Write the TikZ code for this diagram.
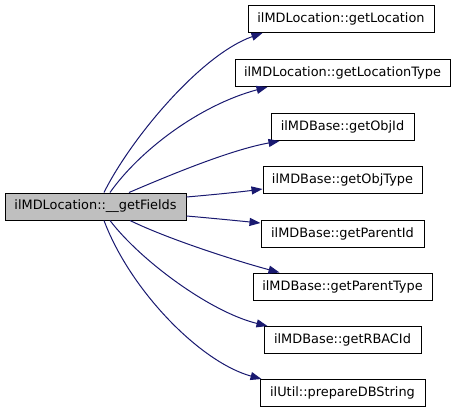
\documentclass[tikz,border=0pt]{standalone}
\usepackage{fontspec}
\setmainfont{DejaVu Sans}
\usetikzlibrary{arrows.meta,calc}
\definecolor{edgeblue}{HTML}{191970}
\definecolor{maingray}{HTML}{BFBFBF}
\begin{document}
\begin{tikzpicture}[x=1pt,y=-1pt,
  fn/.style={draw=black,line width=1pt,rectangle,inner sep=0pt,minimum height=27pt,
    font=\fontsize{12.9}{15}\selectfont,fill=white},
  call/.style={draw=edgeblue,line width=1pt,-{Triangle[length=11pt,width=8pt]}}]
\useasboundingbox (0,0) rectangle (456,413);
\node[fn,fill=maingray,minimum width=181pt] (main) at (95.5,206.5) {ilMDLocation::\_\_getFields};
\node[fn,minimum width=186pt] (n1) at (341,19) {ilMDLocation::getLocation};
\node[fn,minimum width=215pt] (n2) at (342.5,73) {ilMDLocation::getLocationType};
\node[fn,minimum width=143pt] (n3) at (342.5,127) {ilMDBase::getObjId};
\node[fn,minimum width=159pt] (n4) at (342.5,179.5) {ilMDBase::getObjType};
\node[fn,minimum width=163pt] (n5) at (342.5,233.5) {ilMDBase::getParentId};
\node[fn,minimum width=179pt] (n6) at (342.5,286.5) {ilMDBase::getParentType};
\node[fn,minimum width=157pt] (n7) at (342.5,340) {ilMDBase::getRBACId};
\node[fn,minimum width=165pt] (n8) at (342.5,393) {ilUtil::prepareDBString};
\draw[call] ($(main.north)+(8.5,0)$) .. controls (130,140) and (200,55) .. ($(n1.south west)+(15,0)$);
\draw[call] ($(main.north)+(14.5,0)$) .. controls (140,150) and (200,105) .. ($(n2.south west)+(33,0)$);
\draw[call] ($(main.north)+(33.5,0)$) .. controls (170,175) and (230,150) .. ($(n3.south west)+(9,0)$);
\draw[call] ($(main.east)+(0,-9.5)$) .. controls (210,195) and (240,192) .. ($(n4.west)+(0,9.5)$);
\draw[call] ($(main.east)+(0,9.5)$) .. controls (210,218) and (240,221) .. ($(n5.west)+(0,-10.5)$);
\draw[call] ($(main.south)+(34.5,0)$) .. controls (170,240) and (240,262) .. ($(n6.north west)+(27,0)$);
\draw[call] ($(main.south)+(14.5,0)$) .. controls (140,260) and (210,312) .. ($(n7.north west)+(4,0)$);
\draw[call] ($(main.south)+(8.5,0)$) .. controls (130,290) and (200,362) .. ($(n8.north west)+(2,0)$);
\end{tikzpicture}
\end{document}
